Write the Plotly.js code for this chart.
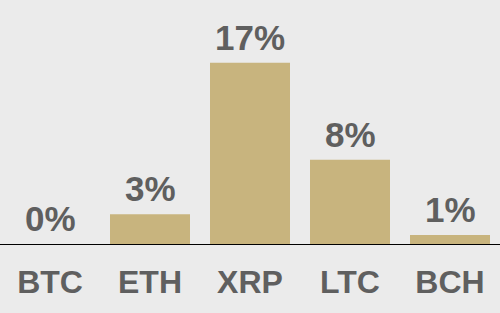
<!DOCTYPE html>
<html>
<head>
<meta charset="utf-8">
<script src="https://cdn.plot.ly/plotly-3.0.1.min.js"></script>
<style>html,body{margin:0;padding:0;background:#ebebeb;}#chart{width:500px;height:313px;}</style>
</head>
<body>
<div id="chart"></div>
<script>
const categories = ["BTC", "ETH", "XRP", "LTC", "BCH"];
const values = [0, 2.8, 17, 7.9, 0.85];
const labels = ["0%", "3%", "17%", "8%", "1%"];

const trace = {
  type: "bar",
  x: categories,
  y: values,
  marker: {color: "#c8b47e"},
  hoverinfo: "none"
};

const annotations = categories.map((c, i) => ({
  x: c, y: values[i], xref: "x", yref: "y",
  text: labels[i], showarrow: false,
  yanchor: "bottom", yshift: 4,
  font: {family: "Liberation Sans, Arial, sans-serif", size: 35, color: "#5f5f5f", weight: "bold"}
}));

const layout = {
  width: 500, height: 313,
  margin: {l: 0, r: 0, t: 0, b: 69},
  paper_bgcolor: "#ebebeb",
  plot_bgcolor: "#ebebeb",
  bargap: 0.2,
  showlegend: false,
  annotations: annotations,
  xaxis: {
    showline: true, linecolor: "#000", linewidth: 1,
    ticks: "outside", ticklen: 10, tickcolor: "rgba(0,0,0,0)",
    tickfont: {family: "Liberation Sans, Arial, sans-serif", size: 32, color: "#5f5f5f", weight: "bold"},
    showgrid: false, zeroline: false, fixedrange: true
  },
  yaxis: {
    range: [0, 22.9], visible: false, showgrid: false, zeroline: false, fixedrange: true
  }
};

Plotly.newPlot("chart", [trace], layout, {displayModeBar: false, staticPlot: true});
</script>
</body>
</html>
